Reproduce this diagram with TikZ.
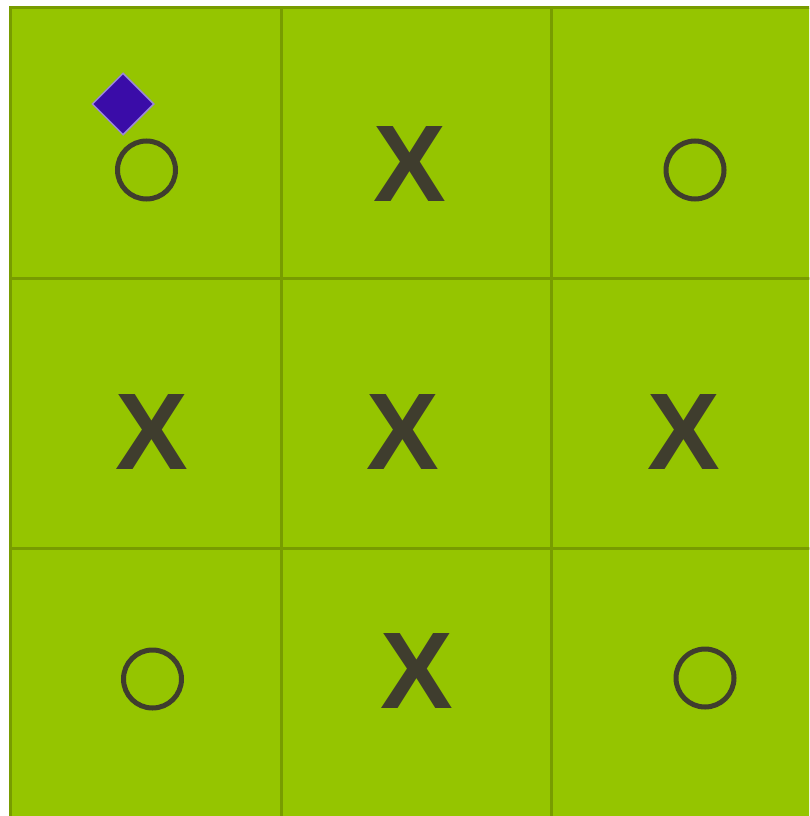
\documentclass[tikz,border=0pt]{standalone}
\usepackage{fontspec}
\setmainfont{Liberation Sans}
\usetikzlibrary{shapes.geometric}
\definecolor{cellgreen}{HTML}{95C500}
\definecolor{gridline}{HTML}{789C00}
\definecolor{markdark}{HTML}{3F3D2E}
\definecolor{gemfill}{HTML}{3A0CA8}
\definecolor{gemedge}{HTML}{9A88D8}
\tikzset{
  cell/.style={rectangle, minimum size=270.5pt, inner sep=0pt, fill=cellgreen, draw=gridline, line width=3pt},
  xmark/.style={inner sep=0pt, text=markdark, font=\fontsize{109}{109}\selectfont\bfseries},
  omark/.style={circle, minimum size=58pt, inner sep=0pt, draw=markdark, line width=5pt},
  gem/.style={diamond, minimum size=62pt, inner sep=0pt, fill=gemfill, draw=gemedge, line width=1.5pt}
}
\begin{document}
\begin{tikzpicture}[x=1pt,y=-1pt]
\useasboundingbox (0,0) rectangle (809,816);
\fill[white] (0,0) rectangle (809,816);
\clip (0,0) rectangle (809,816);
\foreach \i in {0,1,2}{
  \foreach \j in {0,1,2}{
    \node[cell] (c\j\i) at ({10.5+135.25+270.5*\i},{8+135.25+270*\j}) {};
  }
}
\node[gem] (gem) at (123,104) {};
\node[omark] (o1) at (146.5,170) {};
\node[xmark] (x1) at (410,164) {X};
\node[omark] (o2) at (695,170) {};
\node[xmark] (x2) at (152,432) {X};
\node[xmark] (x3) at (403,432) {X};
\node[xmark] (x4) at (684,432) {X};
\node[omark] (o3) at (152.5,679) {};
\node[xmark] (x5) at (417,671) {X};
\node[omark] (o4) at (705,678) {};
\end{tikzpicture}
\end{document}
